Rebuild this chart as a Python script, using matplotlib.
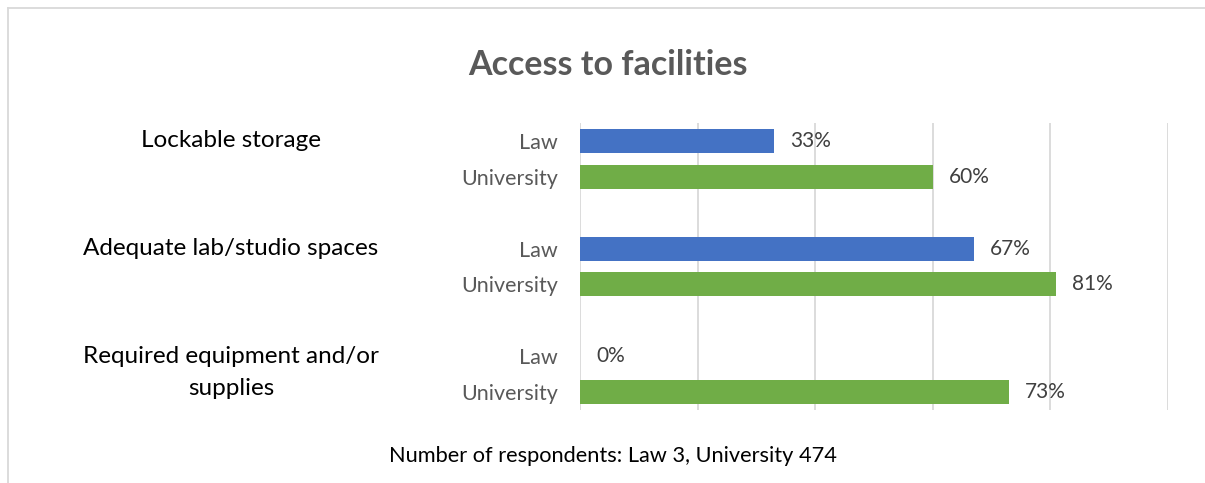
import matplotlib
matplotlib.use("Agg")
import matplotlib.pyplot as plt
from matplotlib.transforms import offset_copy, blended_transform_factory

plt.rcParams['font.family'] = ['Lato', 'DejaVu Sans']

categories = ["Lockable storage", "Adequate lab/studio spaces", "Required equipment and/or\nsupplies"]
series_names = ["Law", "University"]
law_values = [33, 67, 0]
university_values = [60, 81, 73]
title = "Access to facilities"
footnote = "Number of respondents: Law 3, University 474"

W, H = 1205, 483
fig = plt.figure(figsize=(W / 100, H / 100), dpi=100)
fig.patch.set_facecolor("white")

x0, x1 = 580, 1168
y_top, y_bot = 123, 410
ax = fig.add_axes([x0 / W, 1 - y_bot / H, (x1 - x0) / W, (y_bot - y_top) / H])

colors = {"Law": "#4472C4", "University": "#70AD47"}
bar_h = 0.67
ypos_law = [3 * i for i in range(len(categories))]
ypos_uni = [3 * i + 1 for i in range(len(categories))]

ax.barh(ypos_law, law_values, height=bar_h, color=colors["Law"], zorder=3)
ax.barh(ypos_uni, university_values, height=bar_h, color=colors["University"], zorder=3)

ax.set_xlim(0, 100)
ax.set_ylim(7.5, -0.5)
for gx in range(0, 101, 20):
    ax.axvline(gx, color="#D9D9D9", lw=1.3, zorder=1)
for s in ax.spines.values():
    s.set_visible(False)
ax.set_xticks([])
ax.set_yticks(ypos_law + ypos_uni)
ax.set_yticklabels([series_names[0]] * 3 + [series_names[1]] * 3, fontsize=15.5, color="#595959")
ax.tick_params(axis="y", length=0, pad=16)

for y, v in zip(ypos_law + ypos_uni, law_values + university_values):
    tr = offset_copy(ax.transData, fig=fig, x=16, y=0, units="dots")
    ax.text(v, y, f"{v}%", transform=tr, ha="left", va="center", fontsize=15, color="#404040")

btr = blended_transform_factory(fig.transFigure, ax.transData)
for i, cat in enumerate(categories):
    for j, line in enumerate(cat.split("\n")):
        ax.text(231 / W, 3 * i + 0.89 * j, line, transform=btr,
                ha="center", va="center", fontsize=17.5, color="black")

fig.text(608 / W, 1 - 65 / H, title, ha="center", va="center", fontsize=24.5, fontweight="bold", color="#595959")
fig.text(613 / W, 1 - 456 / H, footnote, ha="center", va="center", fontsize=15.7, color="black")

fig.add_artist(plt.Line2D([8 / W, 1], [1 - 8 / H, 1 - 8 / H], transform=fig.transFigure, color="#D9D9D9", lw=1.3))
fig.add_artist(plt.Line2D([8 / W, 8 / W], [0, 1 - 8 / H], transform=fig.transFigure, color="#D9D9D9", lw=1.3))

fig.savefig("out.png", dpi=100, facecolor="white")
